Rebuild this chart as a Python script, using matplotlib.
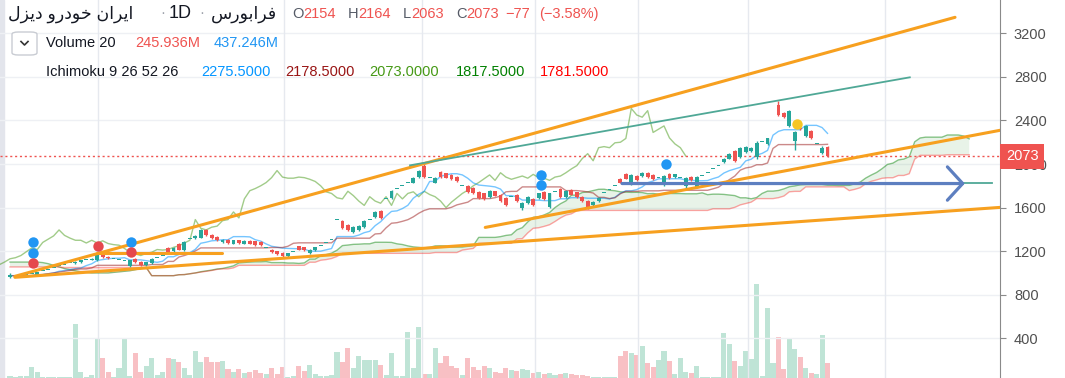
import numpy as np
import pandas as pd
import matplotlib
matplotlib.use("Agg")
import matplotlib.pyplot as plt
from matplotlib.patches import FancyBboxPatch, Rectangle
from matplotlib.lines import Line2D
import matplotlib.transforms as mtransforms

plt.rcParams['font.family'] = ['Liberation Sans', 'DejaVu Sans']

# daily candles, oldest first (bar index = position)
opens = [960, 975, 980, 985, 990, 975, 1015, 1030, 1045, 1060,
         1075, 1090, 1090, 1100, 1115, 1120, 1120, 1165, 1150, 1125,
         1115, 1110, 1065, 1130, 1100, 1070, 1090, 1140, 1160, 1230,
         1200, 1270, 1215, 1310, 1320, 1325, 1390, 1350, 1330, 1280,
         1300, 1270, 1300, 1270, 1295, 1290, 1285, 1225, 1215, 1200,
         1185, 1155, 1190, 1245, 1235, 1185, 1210, 1250, 1275, 1300,
         1490, 1475, 1440, 1375, 1390, 1420, 1490, 1510, 1565, 1680,
         1690, 1775, 1800, 1830, 1830, 1880, 1985, 1870, 1830, 1925,
         1915, 1900, 1880, 1800, 1800, 1780, 1740, 1730, 1700, 1750,
         1720, 1690, 1700, 1720, 1600, 1640, 1680, 1690, 1740, 1610,
         1745, 1775, 1700, 1760, 1740, 1700, 1660, 1620, 1660, 1730,
         1760, 1800, 1865, 1910, 1820, 1890, 1890, 1920, 1900, 1875,
         1810, 1910, 1880, 1875, 1800, 1880, 1790, 1890, 1920, 1955,
         1985, 2015, 2050, 2120, 2060, 2110, 2120, 2060, 2200, 2185,
         2510, 2540, 2470, 2350, 2210, 2330, 2260, 2305, 2185, 2100,
         2154]
closes = [985, 975, 980, 985, 990, 1005, 1015, 1030, 1045, 1060,
          1075, 1090, 1105, 1115, 1115, 1130, 1175, 1145, 1135, 1125,
          1115, 1110, 1115, 1100, 1075, 1100, 1130, 1140, 1160, 1195,
          1230, 1215, 1280, 1310, 1340, 1395, 1345, 1320, 1300, 1300,
          1275, 1300, 1275, 1295, 1270, 1260, 1255, 1225, 1190, 1175,
          1160, 1180, 1190, 1215, 1210, 1215, 1235, 1250, 1275, 1300,
          1490, 1410, 1395, 1420, 1430, 1480, 1490, 1560, 1505, 1680,
          1755, 1775, 1800, 1830, 1875, 1940, 1880, 1870, 1870, 1880,
          1875, 1860, 1840, 1800, 1745, 1730, 1690, 1680, 1750, 1710,
          1660, 1620, 1700, 1660, 1640, 1700, 1620, 1730, 1680, 1730,
          1745, 1700, 1750, 1720, 1700, 1660, 1600, 1650, 1690, 1730,
          1760, 1800, 1830, 1865, 1900, 1850, 1920, 1880, 1860, 1875,
          1890, 1870, 1905, 1875, 1870, 1850, 1880, 1890, 1920, 1955,
          1985, 2050, 2095, 2030, 2150, 2160, 2150, 2195, 2200, 2235,
          2510, 2450, 2430, 2490, 2290, 2320, 2350, 2240, 2185, 2150,
          2073]
highs = [995, 975, 980, 985, 990, 1012, 1015, 1030, 1045, 1060,
         1075, 1090, 1110, 1120, 1115, 1138, 1185, 1170, 1155, 1125,
         1115, 1110, 1122, 1140, 1108, 1105, 1135, 1140, 1160, 1242,
         1238, 1278, 1290, 1310, 1348, 1405, 1400, 1358, 1336, 1308,
         1308, 1306, 1306, 1302, 1300, 1296, 1290, 1225, 1220, 1206,
         1192, 1186, 1190, 1252, 1240, 1220, 1242, 1250, 1275, 1300,
         1490, 1490, 1448, 1428, 1438, 1488, 1490, 1568, 1575, 1680,
         1765, 1775, 1800, 1830, 1882, 1948, 2000, 1870, 1878, 1932,
         1922, 1908, 1888, 1800, 1808, 1786, 1748, 1738, 1758, 1756,
         1728, 1698, 1700, 1728, 1648, 1708, 1688, 1738, 1748, 1738,
         1745, 1782, 1758, 1768, 1746, 1706, 1666, 1656, 1696, 1730,
         1760, 1800, 1875, 1918, 1908, 1898, 1928, 1926, 1906, 1875,
         1898, 1916, 1912, 1875, 1878, 1886, 1888, 1890, 1920, 1955,
         1985, 2058, 2102, 2128, 2158, 2168, 2158, 2210, 2200, 2242,
         2510, 2580, 2478, 2500, 2300, 2338, 2358, 2312, 2185, 2165,
         2164]
lows = [955, 975, 980, 985, 990, 970, 1015, 1030, 1045, 1060,
        1075, 1090, 1085, 1095, 1115, 1115, 1112, 1140, 1128, 1125,
        1115, 1110, 1055, 1092, 1065, 1062, 1085, 1140, 1160, 1185,
        1192, 1208, 1205, 1310, 1315, 1318, 1338, 1312, 1292, 1272,
        1268, 1262, 1268, 1265, 1262, 1252, 1248, 1225, 1182, 1168,
        1150, 1148, 1190, 1208, 1202, 1178, 1205, 1250, 1275, 1300,
        1490, 1400, 1385, 1365, 1382, 1412, 1490, 1502, 1498, 1680,
        1680, 1775, 1800, 1830, 1822, 1872, 1870, 1870, 1822, 1872,
        1868, 1852, 1832, 1800, 1738, 1722, 1682, 1672, 1692, 1702,
        1652, 1612, 1700, 1652, 1580, 1632, 1612, 1682, 1672, 1600,
        1745, 1692, 1692, 1712, 1692, 1652, 1590, 1612, 1652, 1730,
        1760, 1800, 1822, 1858, 1812, 1842, 1882, 1872, 1852, 1875,
        1802, 1862, 1872, 1875, 1777, 1842, 1782, 1890, 1920, 1955,
        1985, 2008, 2042, 2020, 2052, 2100, 2112, 2050, 2200, 2178,
        2510, 2440, 2422, 2340, 2130, 2312, 2252, 2232, 2185, 2090,
        2063]
# volume in millions
volumes = [33, 16, 33, 33, 180, 98, 16, 16, 16, 16,
           16, 16, 886, 98, 16, 49, 656, 328, 98, 16,
           164, 640, 33, 410, 98, 197, 328, 49, 98, 328,
           312, 262, 164, 49, 443, 262, 344, 262, 262, 279,
           148, 98, 148, 82, 98, 131, 82, 66, 164, 66,
           180, 16, 33, 197, 115, 213, 66, 33, 33, 49,
           426, 262, 492, 164, 361, 295, 295, 295, 213, 49,
           410, 33, 33, 754, 164, 836, 66, 66, 492, 246,
           361, 197, 164, 49, 328, 180, 131, 197, 164, 98,
           82, 164, 131, 115, 148, 131, 82, 98, 66, 82,
           49, 66, 82, 66, 49, 49, 33, 16, 16, 16,
           16, 16, 361, 443, 410, 377, 525, 246, 180, 295,
           443, 279, 66, 328, 98, 82, 197, 16, 16, 16,
           16, 738, 558, 279, 197, 443, 312, 1542, 33, 1148,
           246, 672, 148, 656, 476, 344, 164, 82, 66, 705,
           246]
# cloud values over the first 26 visible bars (come from history before the chart)
span_a_lead = [1100, 1100, 1100, 1100, 1100, 1100, 1095, 1085, 1070, 1055,
               1040, 1030, 1020, 1010, 1005, 1000, 1000, 1000, 1000, 1005,
               1010, 1015, 1020, 1030, 1040, 1050]
span_b_lead = [1055, 1055, 1055, 1055, 1055, 1055, 1055, 1055, 1055, 1055,
               1050, 1050, 1050, 1050, 1050, 1050, 1050, 1050, 1050, 1050,
               1050, 1050, 1050, 1050, 1050, 1050]

price_ticks = [400, 800, 1200, 1600, 2000, 2400, 2800, 3200]
month_starts = [16.1, 50.3, 75.6, 96.3, 115.2, 135.4, 160.6]
last_price = 2073

# chart drawings (bar index, price)
orange_lines = [[(0.9, 969), (173.4, 3347)],
                [(0.9, 960), (181.7, 1602)],
                [(87.2, 1418), (181.7, 2310)],
                [(16.0, 1180), (38.9, 1180)]]
teal_lines = [[(73.4, 1988), (165.1, 2796)],
              [(112.3, 1825), (180.2, 1825)]]
arrow_line = [(112.3, 1821), (175.2, 1821)]
blue_marks = [(4.2, 1280), (4.2, 1179), (22.2, 1280), (97.4, 1902), (97.4, 1811), (120.4, 2004)]
red_marks = [(4.2, 1087), (16.1, 1243), (22.2, 1188)]
yellow_marks = [(144.4, 2371)]

W, H = 1065, 378
fig = plt.figure(figsize=(W / 100, H / 100), dpi=100)
fig.patch.set_facecolor('white')
ax = fig.add_axes([0, 0, 1000 / W, 1])
axv = ax.twinx()
axv.set_zorder(0)
ax.set_zorder(1)
ax.patch.set_visible(False)

df = pd.DataFrame({'o': opens, 'h': highs, 'l': lows, 'c': closes, 'v': volumes})
x = np.arange(len(df))
up = df['c'] >= df['o']

# volume
vcol = np.where(up, '#bfe4d6', '#f8c0c4')
axv.bar(x, df['v'], width=0.92, color=vcol, linewidth=0)
axv.set_ylim(0, 6200)
axv.axis('off')

# ichimoku 9 26 52 26
tenkan = (df['h'].rolling(9, min_periods=1).max() + df['l'].rolling(9, min_periods=1).min()) / 2
kijun = (df['h'].rolling(26, min_periods=1).max() + df['l'].rolling(26, min_periods=1).min()) / 2
span_a = np.concatenate([span_a_lead, (tenkan + kijun) / 2])
span_b = np.concatenate([span_b_lead,
                         (df['h'].rolling(52, min_periods=1).max() + df['l'].rolling(52, min_periods=1).min()) / 2])
xs = np.arange(len(span_a))
ax.fill_between(xs, span_a, span_b, where=span_a >= span_b, color='#43a047', alpha=0.12, lw=0, interpolate=True, zorder=2)
ax.fill_between(xs, span_a, span_b, where=span_a < span_b, color='#f44336', alpha=0.12, lw=0, interpolate=True, zorder=2)
ax.plot(xs, span_a, color='#008000', alpha=0.45, lw=1, zorder=3)
ax.plot(xs, span_b, color='#ff0000', alpha=0.35, lw=1, zorder=3)
ax.plot(x - 26, df['c'], color='#459915', alpha=0.5, lw=1, zorder=3)
ax.plot(x, tenkan, color='#0496ff', alpha=0.55, lw=1, zorder=3)
ax.plot(x, kijun, color='#991515', alpha=0.5, lw=1, zorder=3)

# grid
for p in price_ticks:
    ax.axhline(p, color='#eef0f4', lw=1, zorder=0.5)
for m in month_starts:
    ax.axvline(m, color='#e6e9ef', lw=1, zorder=0.5)

# candles
ccol = np.where(up, '#26a69a', '#ef5350')
ax.vlines(x, df['l'], df['h'], colors=ccol, lw=1, zorder=4)
body_lo = np.minimum(df['o'], df['c'])
body_h = np.maximum((df['c'] - df['o']).abs(), 9)
ax.bar(x, body_h, bottom=body_lo, width=0.7, color=ccol, linewidth=0, zorder=5)

# last price line
ax.axhline(last_price, color='#ef5350', lw=1, ls=(0, (1.5, 2)), zorder=3.5)

# drawings
for seg in orange_lines:
    (x0, y0), (x1, y1) = seg
    ax.plot([x0, x1], [y0, y1], color='#f7a01f', lw=2.2, solid_capstyle='round', zorder=6)
for seg in teal_lines:
    (x0, y0), (x1, y1) = seg
    ax.plot([x0, x1], [y0, y1], color='#4fa896', lw=1.3, zorder=6)
ax.annotate('', xy=arrow_line[1], xytext=arrow_line[0],
            arrowprops=dict(arrowstyle='->,head_length=0.55,head_width=0.6', color='#5d7fc0',
                            lw=2.3, mutation_scale=20, shrinkA=0, shrinkB=0), zorder=7)
for pts, col in [(blue_marks, '#2196f3'), (red_marks, '#e5484d'), (yellow_marks, '#f6c623')]:
    ax.plot([p[0] for p in pts], [p[1] for p in pts], 'o', color=col, ms=7.5, mec='none', zorder=8)

ax.set_xlim(-1.835, 181.65)
ax.set_ylim(35.5, 3506)
ax.set_xticks([])
ax.yaxis.tick_right()
ax.set_yticks(price_ticks)
ax.set_yticklabels([str(p) for p in price_ticks])
ax.tick_params(axis='y', length=4, color='#8a8a8a', labelcolor='#505050', labelsize=10.5, pad=6)
for s in ['top', 'left', 'bottom']:
    ax.spines[s].set_visible(False)
ax.spines['right'].set_color('#8a8a8a')

trans = mtransforms.blended_transform_factory(ax.transAxes, ax.transData)
ax.text(1.006, last_price, str(last_price), transform=trans, color='white', fontsize=10.5,
        va='center', ha='left', zorder=10, clip_on=False,
        bbox=dict(boxstyle='square,pad=0.38', fc='#ef5350', ec='none'))

# left border strip
fig.patches.append(Rectangle((0, 0), 4 / W, 1, transform=fig.transFigure, color='#e3e5ec', zorder=0))

# legend header
r = fig.canvas.get_renderer()


def put(pieces, px, py, size):
    for s, c in pieces:
        t = fig.text(px / W, 1 - py / H, s, color=c, fontsize=size, va='center', ha='left')
        px += t.get_window_extent(r).width
    return px


dark, gray, red = '#131722', '#555a66', '#ef5350'
name = '\ufedd\ufeb0\ufef3\ufea9 \ufeed\ufead\ufea9\ufeee\ufea7 \ufee5\ufe8d\ufeae\ufef3\ufe8d'
exch = '\ufeb1\ufead\ufeee\ufe91\ufe8d\ufeae\ufed3'
put([(name, dark)], 8, 14, 12.5)
put([('\u00b7', '#a0a4ad')], 160, 13, 11)
put([('1D', dark)], 169, 14, 13)
put([('\u00b7', '#a0a4ad')], 199, 13, 11)
put([(exch, dark)], 211, 14, 12.5)
for lab, val, px in [('O', '2154', 292), ('H', '2164', 348), ('L', '2063', 403), ('C', '2073', 456)]:
    put([(lab, gray), (val, red)], px, 14, 10.5)
put([('\u221277', red)], 505, 14, 10.5)
put([('(\u22123.58%)', red)], 539, 14, 10.5)

fig.patches.append(FancyBboxPatch((12 / W, 1 - 55 / H), 25 / W, 23 / H, boxstyle='round,pad=0,rounding_size=0.006',
                                  transform=fig.transFigure, fc='white', ec='#c9ccd3', lw=1))
fig.lines.append(Line2D([21 / W, 24.5 / W, 28 / W], [1 - 41.5 / H, 1 - 45 / H, 1 - 41.5 / H],
                        transform=fig.transFigure, color='#333', lw=1.2))
put([('Volume 20', dark)], 46, 43, 10.5)
put([('245.936M', red)], 135, 43, 10.5)
put([('437.246M', '#2196f3')], 214, 43, 10.5)

put([('Ichimoku 9 26 52 26', dark)], 46, 72, 10.5)
for val, col, px in [('2275.5000', '#0496ff', 201), ('2178.5000', '#991515', 285),
                     ('2073.0000', '#459915', 369), ('1817.5000', '#008000', 456),
                     ('1781.5000', '#ff0000', 540)]:
    put([(val, col)], px, 72, 10.5)

fig.savefig('out.png', dpi=100)
